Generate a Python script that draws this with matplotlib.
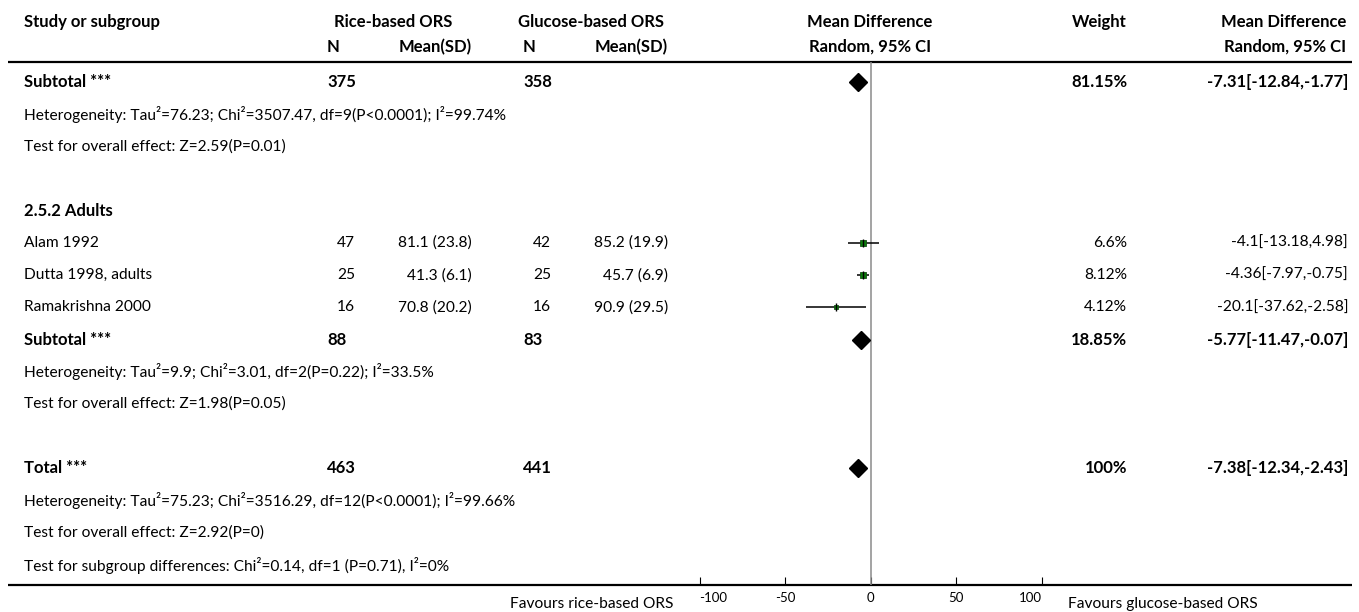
import matplotlib
matplotlib.use("Agg")
import matplotlib.pyplot as plt

plt.rcParams['font.family'] = ['Lato', 'DejaVu Sans']

# individual trials (adults subgroup)
study_names = ['Alam 1992', 'Dutta 1998, adults', 'Ramakrishna 2000']
rice_n = [47, 25, 16]
rice_mean = [81.1, 41.3, 70.8]
rice_sd = [23.8, 6.1, 20.2]
gluc_n = [42, 25, 16]
gluc_mean = [85.2, 45.7, 90.9]
gluc_sd = [19.9, 6.9, 29.5]
study_weight = [6.6, 8.12, 4.12]
study_md = [-4.1, -4.36, -20.1]
study_lo = [-13.18, -7.97, -37.62]
study_hi = [4.98, -0.75, -2.58]

# pooled rows: first subtotal, adults subtotal, total
pooled_labels = ['Subtotal ***', 'Subtotal ***', 'Total ***']
pooled_rice_n = [375, 88, 463]
pooled_gluc_n = [358, 83, 441]
pooled_weight = [81.15, 18.85, 100]
pooled_md = [-7.31, -5.77, -7.38]
pooled_lo = [-12.84, -11.47, -12.34]
pooled_hi = [-1.77, -0.07, -2.43]

heterogeneity = [
    'Heterogeneity: Tau\u00b2=76.23; Chi\u00b2=3507.47, df=9(P<0.0001); I\u00b2=99.74%',
    'Heterogeneity: Tau\u00b2=9.9; Chi\u00b2=3.01, df=2(P=0.22); I\u00b2=33.5%',
    'Heterogeneity: Tau\u00b2=75.23; Chi\u00b2=3516.29, df=12(P<0.0001); I\u00b2=99.66%',
]
overall_effect = [
    'Test for overall effect: Z=2.59(P=0.01)',
    'Test for overall effect: Z=1.98(P=0.05)',
    'Test for overall effect: Z=2.92(P=0)',
]
subgroup_test = 'Test for subgroup differences: Chi\u00b2=0.14, df=1 (P=0.71), I\u00b2=0%'
subgroup_title = '2.5.2 Adults'

axis_ticks = [-100, -50, 0, 50, 100]
favours_left = 'Favours rice-based ORS'
favours_right = 'Favours glucose-based ORS'

W, H = 1359, 612
FS = 11.2
FSB = 12

# column positions (pixels)
X_STUDY = 24
X_RICE_N, X_RICE_MEAN = 355, 472
X_GLUC_N, X_GLUC_MEAN = 551, 668
X_TOT_RICE, X_TOT_GLUC = 327, 523
X_WEIGHT = 1127
X_CI = 1348
PLOT_L, PLOT_R = 699.5, 1041.5
TOP_RULE, BOTTOM_RULE = 62, 585


def row_y(i):
    return 82 + 32.2 * i


fig = plt.figure(figsize=(W / 100, H / 100), dpi=100)
tx = fig.add_axes([0, 0, 1, 1])
tx.set_xlim(0, W)
tx.set_ylim(H, 0)
tx.axis('off')

fx = fig.add_axes([PLOT_L / W, (H - BOTTOM_RULE) / H,
                   (PLOT_R - PLOT_L) / W, (BOTTOM_RULE - TOP_RULE) / H])
fx.set_xlim(-100, 100)
fx.set_ylim(BOTTOM_RULE, TOP_RULE)
fx.patch.set_alpha(0)
for s in fx.spines.values():
    s.set_visible(False)
fx.set_yticks([])
fx.set_xticks(axis_ticks)
fx.set_xticklabels([str(t) for t in axis_ticks], fontsize=9.5)
fx.tick_params(axis='x', direction='in', length=6, width=0.8, pad=5)
# end labels sit inside the tick range
tick_labels = fx.get_xticklabels()
tick_labels[0].set_ha('left')
tick_labels[-1].set_ha('right')

# header
bold = dict(fontsize=FSB, fontweight='bold', va='center')
tx.text(X_STUDY, 22, 'Study or subgroup', ha='left', **bold)
tx.text(393, 22, 'Rice-based ORS', ha='center', **bold)
tx.text(591, 22, 'Glucose-based ORS', ha='center', **bold)
tx.text(870, 22, 'Mean Difference', ha='center', **bold)
tx.text(X_WEIGHT, 22, 'Weight', ha='right', **bold)
tx.text(X_CI - 2, 22, 'Mean Difference', ha='right', **bold)
tx.text(X_TOT_RICE, 47, 'N', ha='left', **bold)
tx.text(X_RICE_MEAN, 47, 'Mean(SD)', ha='right', **bold)
tx.text(X_TOT_GLUC, 47, 'N', ha='left', **bold)
tx.text(X_GLUC_MEAN, 47, 'Mean(SD)', ha='right', **bold)
tx.text(870, 47, 'Random, 95% CI', ha='center', **bold)
tx.text(X_CI - 2, 47, 'Random, 95% CI', ha='right', **bold)
tx.hlines(TOP_RULE, 8, 1352, color='black', lw=1.6)
tx.hlines(BOTTOM_RULE, 8, 1352, color='black', lw=1.6)

norm = dict(fontsize=FS, va='center')

# null line
fx.vlines(0, TOP_RULE, BOTTOM_RULE, color='#8a8a8a', lw=1.1)


def pooled_row(k, r):
    y = row_y(r)
    tx.text(X_STUDY, y, pooled_labels[k], ha='left', **bold)
    tx.text(X_TOT_RICE, y, str(pooled_rice_n[k]), ha='left', **bold)
    tx.text(X_TOT_GLUC, y, str(pooled_gluc_n[k]), ha='left', **bold)
    tx.text(X_WEIGHT, y, f'{pooled_weight[k]:g}%', ha='right', **bold)
    tx.text(X_CI, y, f'{pooled_md[k]:g}[{pooled_lo[k]:g},{pooled_hi[k]:g}]',
            ha='right', **bold)
    fx.plot(pooled_md[k], y, marker='D', ms=9.6, color='black', mec='black')
    tx.text(X_STUDY, row_y(r + 1), heterogeneity[k], ha='left', **norm)
    tx.text(X_STUDY, row_y(r + 2), overall_effect[k], ha='left', **norm)


pooled_row(0, 0)

tx.text(X_STUDY, row_y(4), subgroup_title, ha='left', **bold)
for i, name in enumerate(study_names):
    y = row_y(5 + i)
    tx.text(X_STUDY, y, name, ha='left', **norm)
    tx.text(X_RICE_N, y, str(rice_n[i]), ha='right', **norm)
    tx.text(X_RICE_MEAN, y, f'{rice_mean[i]:g} ({rice_sd[i]:g})', ha='right', **norm)
    tx.text(X_GLUC_N, y, str(gluc_n[i]), ha='right', **norm)
    tx.text(X_GLUC_MEAN, y, f'{gluc_mean[i]:g} ({gluc_sd[i]:g})', ha='right', **norm)
    tx.text(X_WEIGHT, y, f'{study_weight[i]:g}%', ha='right', **norm)
    tx.text(X_CI, y, f'{study_md[i]:g}[{study_lo[i]:g},{study_hi[i]:g}]',
            ha='right', **norm)
    fx.hlines(y, study_lo[i], study_hi[i], color='black', lw=1.1)
    fx.plot(study_md[i], y, marker='s', ms=study_weight[i] * 0.62,
            color='#0a7a0a', mec='#145214', mew=0.6)
    fx.plot(study_md[i], y, marker='|', ms=6, color='black', mew=1)

pooled_row(1, 8)
pooled_row(2, 12)
tx.text(X_STUDY, row_y(15), subgroup_test, ha='left', **norm)

tx.text(673, 604, favours_left, ha='right', va='center', fontsize=FS)
tx.text(1068, 604, favours_right, ha='left', va='center', fontsize=FS)

fig.savefig('out.png', dpi=100)
